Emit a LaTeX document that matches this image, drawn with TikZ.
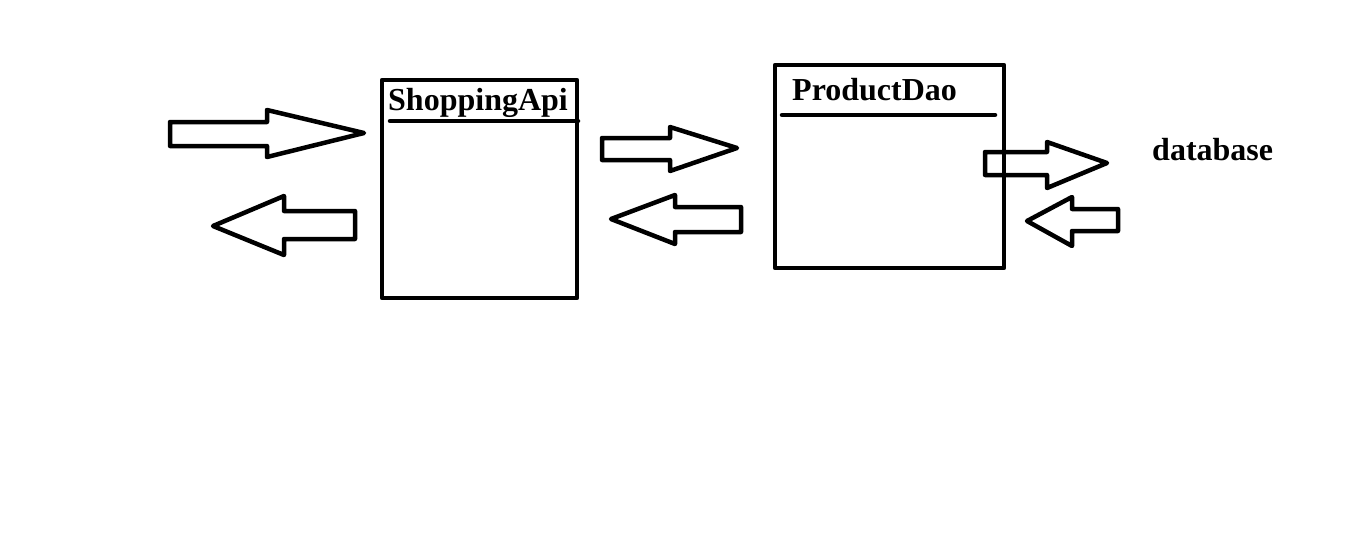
\documentclass[tikz,border=0pt]{standalone}
\usepackage{fontspec}
\setmainfont{Liberation Serif}
\begin{document}
\begin{tikzpicture}[x=1pt,y=-1pt,
  outline/.style={draw=black,line width=4.5pt,line join=round,fill=white},
  boxline/.style={draw=black,line width=4.5pt,line cap=round},
  title/.style={anchor=base west,inner sep=0pt,font=\fontsize{32}{38}\selectfont\bfseries}]
\useasboundingbox[fill=white] (0,0) rectangle (1349,544);
% boxes
\node[outline,draw,minimum width=195pt,minimum height=218pt,anchor=north west,inner sep=0pt,outer sep=0pt] (api) at (382,80) {};
\node[outline,draw,minimum width=229pt,minimum height=203pt,anchor=north west,inner sep=0pt,outer sep=0pt] (dao) at (775,65) {};
% titles
\node[title] (apit) at (388,110) {ShoppingApi};
\node[title] (daot) at (792,100) {ProductDao};
\node[title] (db) at (1152,160) {database};
% title lines
\coordinate (a1) at (390,121); \coordinate (a2) at (578,121);
\draw[boxline] (a1) -- (a2);
\coordinate (d1) at (782,115); \coordinate (d2) at (995,115);
\draw[boxline] (d1) -- (d2);
% arrows into ShoppingApi
\draw[outline] (170,122) -- (267,122) -- (267,110) -- (364,133) -- (267,157) -- (267,146) -- (170,146) -- cycle;
\draw[outline] (355,211) -- (284,211) -- (284,196) -- (213,226) -- (284,255) -- (284,239) -- (355,239) -- cycle;
% arrows between boxes
\draw[outline] (602,138) -- (670,138) -- (670,127) -- (737,148) -- (670,171) -- (670,160) -- (602,160) -- cycle;
\draw[outline] (741,207) -- (675,207) -- (675,195) -- (611,219) -- (675,244) -- (675,232) -- (741,232) -- cycle;
% arrows to database
\draw[draw=black,line width=4.5pt,line join=round] (985,152) -- (1047,152) -- (1047,142) -- (1107,163) -- (1047,188) -- (1047,175) -- (985,175) -- cycle;
\draw[outline] (1118,209) -- (1072,209) -- (1072,197) -- (1027,221) -- (1072,246) -- (1072,231) -- (1118,231) -- cycle;
\end{tikzpicture}
\end{document}
